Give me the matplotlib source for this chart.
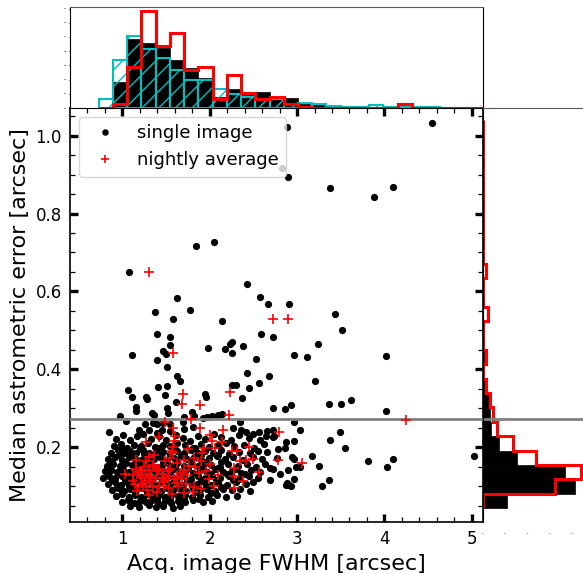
import matplotlib
matplotlib.use('Agg')
import matplotlib.pyplot as plt
import numpy as np
from matplotlib.ticker import MultipleLocator

# single-image measurements (FWHM [arcsec], median astrometric error [arcsec])
single_image = [
    # sparse outliers
    (2.89, 1.022), (2.83, 0.917), (2.90, 0.893), (3.38, 0.866), (3.88, 0.842), (4.10, 0.869), (4.54, 1.033),
    (1.84, 0.717), (2.05, 0.728), (1.08, 0.650), (2.43, 0.619), (2.58, 0.586), (2.67, 0.567), (1.62, 0.583),
    (1.37, 0.548), (1.77, 0.552), (1.58, 0.529), (2.14, 0.524), (1.40, 0.491), (1.54, 0.482), (1.54, 0.462),
    (2.59, 0.490), (2.73, 0.482), (1.47, 0.448), (1.50, 0.439), (1.11, 0.438), (1.98, 0.456), (2.18, 0.451),
    (2.23, 0.466), (2.25, 0.471), (2.25, 0.443), (2.38, 0.461), (1.40, 0.423), (2.53, 0.427), (1.51, 0.407),
    (2.43, 0.390), (2.68, 0.382), (1.62, 0.384), (2.91, 0.569), (3.43, 0.541), (3.52, 0.502), (3.24, 0.465),
    (2.96, 0.438), (3.11, 0.432), (4.02, 0.434), (3.21, 0.371),
    (2.73, 0.301), (2.86, 0.299), (2.93, 0.308), (3.36, 0.311), (3.50, 0.312), (3.62, 0.321), (4.02, 0.292),
    (2.96, 0.264), (3.03, 0.245), (2.73, 0.226), (2.74, 0.229), (2.87, 0.214), (2.97, 0.216), (3.49, 0.238),
    (3.38, 0.219), (3.55, 0.199), (2.78, 0.196), (2.86, 0.197), (2.77, 0.172), (2.94, 0.174), (2.96, 0.170),
    (3.17, 0.178), (2.99, 0.150), (3.03, 0.150), (3.25, 0.152), (3.81, 0.165), (4.10, 0.171), (4.03, 0.150),
    (5.03, 0.177), (2.69, 0.146), (2.73, 0.143), (2.80, 0.132), (2.90, 0.141), (2.69, 0.117), (2.97, 0.119),
    (2.88, 0.108), (2.91, 0.104), (2.87, 0.102), (2.93, 0.101), (3.37, 0.117), (3.28, 0.100),
    # middle band
    (1.41, 0.354), (1.51, 0.358), (1.66, 0.369), (1.06, 0.346), (1.11, 0.330), (1.27, 0.329), (1.28, 0.324),
    (1.49, 0.334), (1.61, 0.317), (1.95, 0.337), (1.96, 0.330), (2.26, 0.361), (2.30, 0.361), (2.45, 0.353),
    (2.56, 0.365), (2.37, 0.327), (1.16, 0.303), (1.16, 0.293), (1.34, 0.288), (1.36, 0.284), (1.51, 0.301),
    (1.52, 0.289), (0.97, 0.280), (1.04, 0.267), (1.80, 0.290), (1.82, 0.281), (1.92, 0.275), (1.97, 0.277),
    (2.03, 0.280), (2.09, 0.282), (2.14, 0.285), (2.35, 0.266), (1.69, 0.266), (1.71, 0.277), (1.26, 0.260),
    (1.35, 0.262), (1.40, 0.260), (1.47, 0.263), (1.54, 0.260), (0.85, 0.238), (1.19, 0.243), (1.31, 0.245),
    (1.40, 0.236), (1.45, 0.245), (1.54, 0.241), (1.71, 0.247), (1.81, 0.253), (2.27, 0.250), (2.36, 0.245),
    (2.42, 0.239), (2.49, 0.234), (2.56, 0.238), (2.65, 0.241), (2.73, 0.245),
    # dense core
    (0.93, 0.222), (1.01, 0.231), (1.09, 0.219), (1.17, 0.228), (1.24, 0.233), (1.33, 0.221), (1.42, 0.229),
    (1.50, 0.218), (1.61, 0.232), (1.69, 0.224), (1.77, 0.217), (1.86, 0.229), (1.95, 0.222), (2.05, 0.234),
    (2.13, 0.226), (2.24, 0.219), (2.33, 0.231), (2.45, 0.224), (2.57, 0.219), (2.64, 0.229),
    (0.90, 0.204), (0.98, 0.209), (1.05, 0.199), (1.13, 0.207), (1.21, 0.203), (1.29, 0.211), (1.37, 0.200),
    (1.46, 0.207), (1.55, 0.202), (1.63, 0.211), (1.72, 0.205), (1.81, 0.199), (1.90, 0.208), (1.99, 0.201),
    (2.09, 0.206), (2.19, 0.211), (2.28, 0.202), (2.39, 0.207), (2.51, 0.199), (2.62, 0.209),
    (1.00, 0.197), (1.20, 0.195), (1.42, 0.198), (1.60, 0.196), (1.83, 0.197),
    (0.87, 0.186), (0.95, 0.192), (1.02, 0.184), (1.09, 0.191), (1.16, 0.186), (1.24, 0.193), (1.31, 0.185),
    (1.39, 0.191), (1.47, 0.187), (1.55, 0.183), (1.63, 0.190), (1.70, 0.186), (1.78, 0.192), (1.86, 0.184),
    (1.95, 0.190), (2.04, 0.186), (2.13, 0.192), (2.22, 0.183), (2.34, 0.189), (2.46, 0.185), (2.55, 0.191),
    (2.66, 0.187),
    (0.96, 0.181), (1.11, 0.180), (1.25, 0.182), (1.40, 0.179), (1.55, 0.181), (1.71, 0.180), (1.90, 0.179),
    (2.10, 0.181),
    (0.84, 0.170), (0.92, 0.175), (1.00, 0.168), (1.07, 0.176), (1.14, 0.171), (1.21, 0.166), (1.28, 0.174),
    (1.36, 0.169), (1.43, 0.176), (1.51, 0.167), (1.59, 0.173), (1.67, 0.178), (1.74, 0.169), (1.82, 0.175),
    (1.90, 0.166), (1.99, 0.172), (2.08, 0.177), (2.17, 0.169), (2.27, 0.174), (2.38, 0.168), (2.49, 0.175),
    (2.60, 0.170),
    (0.88, 0.163), (1.03, 0.162), (1.18, 0.164), (1.32, 0.163), (1.47, 0.162), (1.63, 0.164), (1.78, 0.163),
    (1.95, 0.161), (2.13, 0.163),
    (0.82, 0.153), (0.89, 0.158), (0.97, 0.151), (1.04, 0.159), (1.11, 0.154), (1.18, 0.160), (1.25, 0.152),
    (1.32, 0.157), (1.40, 0.150), (1.47, 0.158), (1.55, 0.153), (1.62, 0.160), (1.70, 0.151), (1.78, 0.157),
    (1.86, 0.152), (1.94, 0.159), (2.02, 0.154), (2.12, 0.149), (2.21, 0.157), (2.32, 0.152), (2.43, 0.158),
    (2.53, 0.150), (2.63, 0.156),
    (0.85, 0.146), (1.00, 0.147), (1.15, 0.148), (1.30, 0.146), (1.44, 0.147), (1.60, 0.148), (1.75, 0.146),
    (1.92, 0.147), (2.10, 0.146), (2.30, 0.145),
    (0.80, 0.138), (0.87, 0.142), (0.94, 0.136), (1.01, 0.143), (1.08, 0.137), (1.15, 0.141), (1.22, 0.135),
    (1.29, 0.143), (1.36, 0.138), (1.43, 0.141), (1.51, 0.136), (1.58, 0.143), (1.66, 0.137), (1.73, 0.142),
    (1.81, 0.135), (1.89, 0.141), (1.97, 0.137), (2.06, 0.143), (2.15, 0.136), (2.25, 0.140), (2.36, 0.134),
    (2.47, 0.141), (2.58, 0.137),
    (0.83, 0.130), (0.98, 0.131), (1.12, 0.132), (1.26, 0.130), (1.40, 0.132), (1.54, 0.130), (1.69, 0.131),
    (1.85, 0.132), (2.01, 0.130), (2.20, 0.131), (2.40, 0.130),
    (0.78, 0.121), (0.85, 0.126), (0.92, 0.120), (0.99, 0.127), (1.06, 0.122), (1.13, 0.125), (1.20, 0.119),
    (1.27, 0.127), (1.34, 0.121), (1.41, 0.126), (1.48, 0.120), (1.56, 0.127), (1.63, 0.122), (1.71, 0.125),
    (1.78, 0.119), (1.86, 0.126), (1.94, 0.121), (2.03, 0.127), (2.12, 0.120), (2.22, 0.125), (2.33, 0.119),
    (2.45, 0.126), (2.55, 0.121),
    (0.88, 0.115), (1.03, 0.116), (1.17, 0.115), (1.31, 0.117), (1.45, 0.115), (1.59, 0.116), (1.74, 0.117),
    (1.90, 0.115), (2.07, 0.116), (2.27, 0.115),
    (0.84, 0.106), (0.91, 0.111), (0.98, 0.104), (1.05, 0.110), (1.12, 0.105), (1.19, 0.112), (1.26, 0.106),
    (1.33, 0.110), (1.40, 0.103), (1.47, 0.111), (1.54, 0.106), (1.62, 0.109), (1.69, 0.104), (1.77, 0.111),
    (1.85, 0.105), (1.93, 0.110), (2.01, 0.104), (2.10, 0.109), (2.20, 0.103), (2.30, 0.110), (2.41, 0.105),
    (2.50, 0.111),
    (0.94, 0.099), (1.08, 0.100), (1.22, 0.098), (1.36, 0.100), (1.50, 0.099), (1.65, 0.098), (1.80, 0.100),
    (1.96, 0.099), (2.13, 0.098),
    (0.88, 0.090), (0.95, 0.095), (1.02, 0.088), (1.09, 0.094), (1.16, 0.089), (1.23, 0.096), (1.30, 0.090),
    (1.37, 0.093), (1.44, 0.087), (1.51, 0.095), (1.58, 0.089), (1.66, 0.094), (1.73, 0.088), (1.81, 0.095),
    (1.89, 0.090), (1.97, 0.093), (2.06, 0.087), (2.15, 0.094), (2.25, 0.089), (2.35, 0.093), (2.46, 0.088),
    (1.00, 0.083), (1.14, 0.084), (1.28, 0.082), (1.42, 0.084), (1.56, 0.083), (1.70, 0.082), (1.85, 0.084),
    (2.02, 0.083),
    (0.93, 0.074), (1.00, 0.079), (1.07, 0.072), (1.14, 0.078), (1.21, 0.073), (1.28, 0.080), (1.35, 0.074),
    (1.42, 0.077), (1.49, 0.071), (1.57, 0.079), (1.64, 0.074), (1.72, 0.078), (1.80, 0.072), (1.89, 0.077),
    (1.98, 0.073), (2.08, 0.078), (2.19, 0.072), (2.31, 0.076),
    (1.08, 0.068), (1.24, 0.069), (1.40, 0.067), (1.55, 0.068), (1.70, 0.069), (1.88, 0.067),
    (0.99, 0.060), (1.06, 0.064), (1.13, 0.058), (1.20, 0.063), (1.27, 0.059), (1.34, 0.065), (1.41, 0.058),
    (1.49, 0.062), (1.56, 0.057), (1.64, 0.063), (1.72, 0.059), (1.81, 0.064), (1.92, 0.060), (2.03, 0.063),
    (1.09, 0.050), (1.19, 0.047), (1.30, 0.052), (1.38, 0.046), (1.47, 0.049), (1.58, 0.045), (1.66, 0.050),
]

# nightly averages
nightly_average = [
    (1.30, 0.650), (2.73, 0.528), (2.90, 0.528), (1.58, 0.442), (4.25, 0.269), (2.79, 0.238), (2.78, 0.166),
    (3.06, 0.160), (1.69, 0.336), (1.68, 0.310), (1.89, 0.309), (2.23, 0.342), (1.49, 0.264), (1.79, 0.273),
    (2.22, 0.284), (1.58, 0.250), (1.89, 0.250), (2.15, 0.245), (1.42, 0.226), (1.60, 0.230), (1.59, 0.217),
    (1.27, 0.213), (2.00, 0.232), (2.03, 0.217), (2.14, 0.214), (2.06, 0.197), (1.93, 0.197), (1.91, 0.186),
    (2.26, 0.191), (2.31, 0.191), (2.45, 0.201), (1.58, 0.201), (1.57, 0.191), (1.27, 0.165), (1.36, 0.180),
    (1.49, 0.165), (1.55, 0.172), (1.70, 0.167), (1.82, 0.172), (1.83, 0.149), (1.76, 0.151), (1.71, 0.141),
    (1.16, 0.167), (2.35, 0.165), (2.41, 0.167), (2.50, 0.169), (2.28, 0.147), (2.28, 0.125), (2.56, 0.136),
    (2.38, 0.112), (2.28, 0.095), (1.03, 0.131), (1.12, 0.129), (1.18, 0.136), (1.21, 0.120), (1.24, 0.104),
    (1.30, 0.122), (1.33, 0.112), (1.42, 0.101), (1.49, 0.116), (1.53, 0.127), (1.61, 0.109), (1.71, 0.082),
    (1.82, 0.097), (1.81, 0.084), (1.96, 0.140), (1.99, 0.119), (1.63, 0.125), (1.40, 0.138), (1.31, 0.142),
    (1.19, 0.097), (1.14, 0.106), (1.25, 0.150), (1.35, 0.155), (1.45, 0.130), (1.22, 0.140), (1.38, 0.120),
    (1.55, 0.145), (1.62, 0.160), (1.48, 0.100), (1.28, 0.090), (1.68, 0.120), (1.90, 0.165), (1.75, 0.195),
    (1.30, 0.175), (1.58, 0.185), (2.00, 0.158), (1.15, 0.145), (1.27, 0.132), (1.33, 0.127), (1.42, 0.145),
    (1.47, 0.122), (1.52, 0.138), (1.59, 0.118), (1.66, 0.133), (1.74, 0.128), (1.88, 0.135), (2.10, 0.128),
    (1.36, 0.148), (1.21, 0.125), (1.17, 0.088), (1.26, 0.108), (1.35, 0.098), (1.40, 0.085), (1.46, 0.110),
    (1.53, 0.095), (1.57, 0.080), (1.64, 0.100), (1.73, 0.105), (1.90, 0.092), (2.05, 0.100), (1.31, 0.078),
    (1.12, 0.112),
]

# top histogram (FWHM, normalised), 27 bins
fwhm_bins = np.linspace(0.728, 5.13, 28)
fwhm_hist_single = [0.0, 0.37, 0.97, 0.91, 0.85, 0.68, 0.56, 0.42, 0.16, 0.27, 0.18, 0.23, 0.14, 0.14,
                    0.05, 0.04, 0.02, 0.02, 0.02, 0.02, 0.02, 0.01, 0.01, 0.005, 0.005, 0.005, 0.005]
fwhm_hist_nightly = [0.0, 0.06, 0.58, 1.36, 0.88, 1.05, 0.53, 0.58, 0.12, 0.47, 0.21, 0.12, 0.16, 0.05,
                     0.02, 0.0, 0.0, 0.0, 0.0, 0.0, 0.0, 0.06, 0.0, 0.0, 0.0, 0.0, 0.0]
fwhm_hist_all = [0.13, 0.68, 1.02, 0.83, 0.71, 0.53, 0.40, 0.40, 0.27, 0.20, 0.16, 0.13, 0.12, 0.06,
                 0.07, 0.05, 0.03, 0.02, 0.015, 0.04, 0.02, 0.01, 0.02, 0.01, 0.005, 0.0, 0.0]

# right histogram (astrometric error), 27 bins
err_bins = np.linspace(0.044, 1.04, 28)
err_hist_single = [2.14, 8.26, 7.36, 3.04, 1.50, 0.78, 0.69, 0.63, 0.27, 0.09, 0.14, 0.15, 0.05, 0.06,
                   0.06, 0.03, 0.03, 0.0, 0.05, 0.0, 0.0, 0.0, 0.05, 0.05, 0.0, 0.0, 0.05]
err_hist_nightly = [0.0, 6.46, 8.80, 4.80, 2.73, 1.29, 0.93, 0.69, 0.33, 0.0, 0.27, 0.0, 0.0, 0.45,
                    0.0, 0.0, 0.27, 0.0, 0.0, 0.0, 0.0, 0.0, 0.0, 0.0, 0.0, 0.0, 0.0]

err_limit = 0.272

single = np.array(single_image)
nightly = np.array(nightly_average)

fig = plt.figure(figsize=(5.83, 5.73), dpi=100)
ax = fig.add_axes([0.1205, 0.089, 0.7075, 0.7225])
ax_top = fig.add_axes([0.1205, 0.8115, 0.7075, 0.176], sharex=ax)
ax_right = fig.add_axes([0.828, 0.089, 0.172, 0.7225], sharey=ax)

# main scatter
ax.plot(single[:, 0], single[:, 1], 'o', color='k', ms=5.2, mew=0, label='single image', zorder=2)
ax.axhline(err_limit, color='grey', lw=2, zorder=3)
ax.plot(nightly[:, 0], nightly[:, 1], '+', color='red', ms=7, mew=1.2, label='nightly average', zorder=4)

ax.set_xlim(0.4025, 5.126)
ax.set_ylim(0.008, 1.071)
ax.xaxis.set_major_locator(MultipleLocator(1))
ax.xaxis.set_minor_locator(MultipleLocator(0.2))
ax.yaxis.set_major_locator(MultipleLocator(0.2))
ax.yaxis.set_minor_locator(MultipleLocator(0.05))
ax.tick_params(which='both', direction='in', top=True, right=True, labelsize=12)
ax.tick_params(which='major', length=6, width=2.4, pad=6)
ax.tick_params(which='minor', length=3.5, width=0.9)
for s in ax.spines.values():
    s.set_linewidth(1.2)
ax.set_xlabel('Acq. image FWHM [arcsec]', fontsize=16)
ax.set_ylabel('Median astrometric error [arcsec]', fontsize=16)
ax.legend(loc='upper left', fontsize=13, markerscale=0.9)

# top histogram
w = np.diff(fwhm_bins)
ax_top.bar(fwhm_bins[:-1], fwhm_hist_single, width=w, align='edge', color='k', edgecolor='k', lw=0.5)
ax_top.bar(fwhm_bins[:-1], fwhm_hist_all, width=w, align='edge', fill=False, hatch='//',
           edgecolor='c', lw=1.5)
ax_top.stairs(fwhm_hist_nightly, fwhm_bins, fill=False, color='red', lw=2.2)
ax_top.set_ylim(0, 1.42)
ax_top.yaxis.set_major_locator(MultipleLocator(0.2))
ax_top.tick_params(axis='x', which='both', bottom=False, labelbottom=False)
ax_top.tick_params(axis='y', which='both', length=1, labelsize=1.5, pad=1)
ax_top.spines['top'].set_color('0.35')

# right histogram
h = np.diff(err_bins)
ax_right.barh(err_bins[:-1], err_hist_single, height=h, align='edge', color='k', edgecolor='k', lw=0.5)
ax_right.stairs(err_hist_nightly, err_bins, orientation='horizontal', fill=False, color='red', lw=2.2)
ax_right.axhline(err_limit, color='grey', lw=2)
ax_right.set_xlim(0, 9)
ax_right.xaxis.set_major_locator(MultipleLocator(2))
ax_right.tick_params(axis='y', which='both', left=False, labelleft=False)
ax_right.tick_params(axis='x', which='both', length=0, labelsize=1.5, pad=8)
ax_right.spines['right'].set_visible(False)
ax_right.spines['bottom'].set_visible(False)
ax_right.spines['top'].set_color('0.35')

fig.savefig('out.png', dpi=100)
